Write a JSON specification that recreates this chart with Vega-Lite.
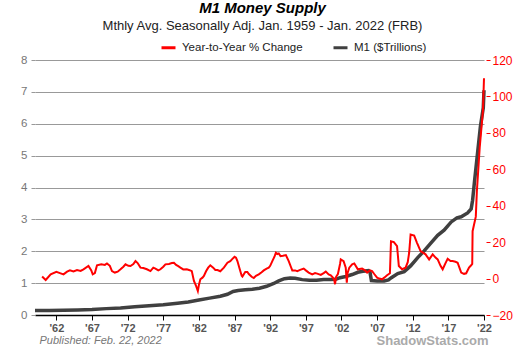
{
 "$schema": "https://vega.github.io/schema/vega-lite/v6.json",
 "width": 449, "height": 255,
 "autosize": {"type": "none"},
 "padding": {"left": 35, "top": 60, "right": 41, "bottom": 35},
 "background": "white",
 "config": {"font": "Liberation Sans", "view": {"stroke": null}, "axis": {"labelOverlap": false}},
 "title": {"text": "M1 Money Supply", "subtitle": "Mthly Avg. Seasonally Adj. Jan. 1959 - Jan. 2022  (FRB)", "anchor": "middle", "frame": "group", "font": "Liberation Sans", "fontSize": 15, "fontWeight": "bold", "fontStyle": "italic", "color": "#000", "subtitleFont": "Liberation Sans", "subtitleFontSize": 13, "subtitleColor": "#222", "subtitlePadding": 4, "offset": 6, "dx": 3},
 "data": {"values": [
  {"s":"M1 ($Trillions)","yr":1959.0,"v":0.14},{"s":"M1 ($Trillions)","yr":1961.0,"v":0.145},{"s":"M1 ($Trillions)","yr":1963.0,"v":0.15},{"s":"M1 ($Trillions)","yr":1965.0,"v":0.16},{"s":"M1 ($Trillions)","yr":1967.0,"v":0.175},{"s":"M1 ($Trillions)","yr":1969.0,"v":0.2},{"s":"M1 ($Trillions)","yr":1971.0,"v":0.22},{"s":"M1 ($Trillions)","yr":1973.0,"v":0.26},{"s":"M1 ($Trillions)","yr":1975.0,"v":0.29},{"s":"M1 ($Trillions)","yr":1977.0,"v":0.32},{"s":"M1 ($Trillions)","yr":1979.0,"v":0.37},{"s":"M1 ($Trillions)","yr":1980.5,"v":0.41},{"s":"M1 ($Trillions)","yr":1982.0,"v":0.47},{"s":"M1 ($Trillions)","yr":1983.5,"v":0.53},{"s":"M1 ($Trillions)","yr":1985.0,"v":0.59},{"s":"M1 ($Trillions)","yr":1986.0,"v":0.65},{"s":"M1 ($Trillions)","yr":1986.8,"v":0.74},{"s":"M1 ($Trillions)","yr":1987.5,"v":0.77},{"s":"M1 ($Trillions)","yr":1988.5,"v":0.79},{"s":"M1 ($Trillions)","yr":1989.5,"v":0.81},{"s":"M1 ($Trillions)","yr":1990.5,"v":0.84},{"s":"M1 ($Trillions)","yr":1991.5,"v":0.9},{"s":"M1 ($Trillions)","yr":1992.5,"v":0.99},{"s":"M1 ($Trillions)","yr":1993.2,"v":1.07},{"s":"M1 ($Trillions)","yr":1994.0,"v":1.14},{"s":"M1 ($Trillions)","yr":1994.8,"v":1.16},{"s":"M1 ($Trillions)","yr":1995.5,"v":1.15},{"s":"M1 ($Trillions)","yr":1996.5,"v":1.11},{"s":"M1 ($Trillions)","yr":1997.5,"v":1.09},{"s":"M1 ($Trillions)","yr":1998.5,"v":1.09},{"s":"M1 ($Trillions)","yr":1999.5,"v":1.11},{"s":"M1 ($Trillions)","yr":2000.5,"v":1.11},{"s":"M1 ($Trillions)","yr":2001.2,"v":1.12},{"s":"M1 ($Trillions)","yr":2001.8,"v":1.17},{"s":"M1 ($Trillions)","yr":2002.6,"v":1.21},{"s":"M1 ($Trillions)","yr":2003.5,"v":1.27},{"s":"M1 ($Trillions)","yr":2004.3,"v":1.34},{"s":"M1 ($Trillions)","yr":2005.0,"v":1.37},{"s":"M1 ($Trillions)","yr":2005.8,"v":1.39},{"s":"M1 ($Trillions)","yr":2006.0,"v":1.35},{"s":"M1 ($Trillions)","yr":2006.2,"v":1.08},{"s":"M1 ($Trillions)","yr":2007.0,"v":1.07},{"s":"M1 ($Trillions)","yr":2008.0,"v":1.07},{"s":"M1 ($Trillions)","yr":2008.6,"v":1.1},{"s":"M1 ($Trillions)","yr":2009.0,"v":1.17},{"s":"M1 ($Trillions)","yr":2009.9,"v":1.3},{"s":"M1 ($Trillions)","yr":2010.8,"v":1.36},{"s":"M1 ($Trillions)","yr":2011.7,"v":1.54},{"s":"M1 ($Trillions)","yr":2012.7,"v":1.8},{"s":"M1 ($Trillions)","yr":2013.6,"v":2.01},{"s":"M1 ($Trillions)","yr":2014.6,"v":2.27},{"s":"M1 ($Trillions)","yr":2015.5,"v":2.5},{"s":"M1 ($Trillions)","yr":2016.4,"v":2.66},{"s":"M1 ($Trillions)","yr":2017.4,"v":2.92},{"s":"M1 ($Trillions)","yr":2018.2,"v":3.05},{"s":"M1 ($Trillions)","yr":2018.8,"v":3.08},{"s":"M1 ($Trillions)","yr":2019.7,"v":3.2},{"s":"M1 ($Trillions)","yr":2020.2,"v":3.33},{"s":"M1 ($Trillions)","yr":2020.4,"v":3.6},{"s":"M1 ($Trillions)","yr":2020.65,"v":4.15},{"s":"M1 ($Trillions)","yr":2021.1,"v":5.09},{"s":"M1 ($Trillions)","yr":2021.5,"v":5.92},{"s":"M1 ($Trillions)","yr":2021.9,"v":6.5},{"s":"M1 ($Trillions)","yr":2022.0,"v":7.05},
  {"s":"Year-to-Year % Change","yr":1960.0,"v":1.1},{"s":"Year-to-Year % Change","yr":1960.5,"v":-0.8},{"s":"Year-to-Year % Change","yr":1961.2,"v":2.3},{"s":"Year-to-Year % Change","yr":1962.0,"v":3.7},{"s":"Year-to-Year % Change","yr":1962.5,"v":3.0},{"s":"Year-to-Year % Change","yr":1963.0,"v":2.3},{"s":"Year-to-Year % Change","yr":1963.5,"v":3.8},{"s":"Year-to-Year % Change","yr":1963.9,"v":4.5},{"s":"Year-to-Year % Change","yr":1964.4,"v":3.9},{"s":"Year-to-Year % Change","yr":1964.9,"v":4.7},{"s":"Year-to-Year % Change","yr":1965.4,"v":4.2},{"s":"Year-to-Year % Change","yr":1965.8,"v":5.1},{"s":"Year-to-Year % Change","yr":1966.5,"v":6.9},{"s":"Year-to-Year % Change","yr":1966.9,"v":4.5},{"s":"Year-to-Year % Change","yr":1967.1,"v":2.3},{"s":"Year-to-Year % Change","yr":1967.4,"v":3.0},{"s":"Year-to-Year % Change","yr":1967.7,"v":7.3},{"s":"Year-to-Year % Change","yr":1968.3,"v":7.8},{"s":"Year-to-Year % Change","yr":1968.8,"v":7.5},{"s":"Year-to-Year % Change","yr":1969.1,"v":8.3},{"s":"Year-to-Year % Change","yr":1969.5,"v":7.0},{"s":"Year-to-Year % Change","yr":1969.8,"v":4.1},{"s":"Year-to-Year % Change","yr":1970.2,"v":3.3},{"s":"Year-to-Year % Change","yr":1970.6,"v":3.8},{"s":"Year-to-Year % Change","yr":1971.0,"v":5.1},{"s":"Year-to-Year % Change","yr":1971.4,"v":6.5},{"s":"Year-to-Year % Change","yr":1971.7,"v":7.8},{"s":"Year-to-Year % Change","yr":1972.1,"v":7.0},{"s":"Year-to-Year % Change","yr":1972.4,"v":6.9},{"s":"Year-to-Year % Change","yr":1972.8,"v":8.0},{"s":"Year-to-Year % Change","yr":1973.1,"v":9.6},{"s":"Year-to-Year % Change","yr":1973.4,"v":8.5},{"s":"Year-to-Year % Change","yr":1973.8,"v":6.0},{"s":"Year-to-Year % Change","yr":1974.2,"v":5.8},{"s":"Year-to-Year % Change","yr":1974.7,"v":5.1},{"s":"Year-to-Year % Change","yr":1975.2,"v":4.1},{"s":"Year-to-Year % Change","yr":1975.6,"v":6.0},{"s":"Year-to-Year % Change","yr":1975.9,"v":5.5},{"s":"Year-to-Year % Change","yr":1976.3,"v":4.5},{"s":"Year-to-Year % Change","yr":1976.6,"v":5.1},{"s":"Year-to-Year % Change","yr":1977.0,"v":6.5},{"s":"Year-to-Year % Change","yr":1977.3,"v":7.8},{"s":"Year-to-Year % Change","yr":1977.8,"v":8.0},{"s":"Year-to-Year % Change","yr":1978.2,"v":8.5},{"s":"Year-to-Year % Change","yr":1978.5,"v":8.7},{"s":"Year-to-Year % Change","yr":1978.8,"v":7.5},{"s":"Year-to-Year % Change","yr":1979.1,"v":6.8},{"s":"Year-to-Year % Change","yr":1979.4,"v":6.0},{"s":"Year-to-Year % Change","yr":1979.8,"v":5.0},{"s":"Year-to-Year % Change","yr":1980.3,"v":5.1},{"s":"Year-to-Year % Change","yr":1980.7,"v":4.6},{"s":"Year-to-Year % Change","yr":1981.0,"v":4.1},{"s":"Year-to-Year % Change","yr":1981.3,"v":-1.3},{"s":"Year-to-Year % Change","yr":1981.6,"v":-4.0},{"s":"Year-to-Year % Change","yr":1981.85,"v":-6.8},{"s":"Year-to-Year % Change","yr":1982.0,"v":-3.5},{"s":"Year-to-Year % Change","yr":1982.2,"v":-0.4},{"s":"Year-to-Year % Change","yr":1982.5,"v":0.5},{"s":"Year-to-Year % Change","yr":1982.7,"v":1.4},{"s":"Year-to-Year % Change","yr":1983.0,"v":4.0},{"s":"Year-to-Year % Change","yr":1983.3,"v":6.0},{"s":"Year-to-Year % Change","yr":1983.6,"v":7.3},{"s":"Year-to-Year % Change","yr":1984.0,"v":6.0},{"s":"Year-to-Year % Change","yr":1984.3,"v":4.7},{"s":"Year-to-Year % Change","yr":1984.6,"v":4.7},{"s":"Year-to-Year % Change","yr":1985.0,"v":4.0},{"s":"Year-to-Year % Change","yr":1985.5,"v":6.0},{"s":"Year-to-Year % Change","yr":1986.0,"v":8.7},{"s":"Year-to-Year % Change","yr":1986.4,"v":9.6},{"s":"Year-to-Year % Change","yr":1986.7,"v":10.8},{"s":"Year-to-Year % Change","yr":1987.0,"v":12.0},{"s":"Year-to-Year % Change","yr":1987.2,"v":11.5},{"s":"Year-to-Year % Change","yr":1987.4,"v":9.6},{"s":"Year-to-Year % Change","yr":1987.7,"v":5.5},{"s":"Year-to-Year % Change","yr":1988.0,"v":1.5},{"s":"Year-to-Year % Change","yr":1988.1,"v":1.1},{"s":"Year-to-Year % Change","yr":1988.5,"v":3.6},{"s":"Year-to-Year % Change","yr":1988.8,"v":3.6},{"s":"Year-to-Year % Change","yr":1989.0,"v":2.5},{"s":"Year-to-Year % Change","yr":1989.4,"v":1.0},{"s":"Year-to-Year % Change","yr":1989.7,"v":0.3},{"s":"Year-to-Year % Change","yr":1990.0,"v":1.5},{"s":"Year-to-Year % Change","yr":1990.4,"v":2.3},{"s":"Year-to-Year % Change","yr":1990.8,"v":3.5},{"s":"Year-to-Year % Change","yr":1991.1,"v":4.5},{"s":"Year-to-Year % Change","yr":1991.5,"v":5.5},{"s":"Year-to-Year % Change","yr":1991.8,"v":6.0},{"s":"Year-to-Year % Change","yr":1992.0,"v":7.0},{"s":"Year-to-Year % Change","yr":1992.3,"v":9.6},{"s":"Year-to-Year % Change","yr":1992.6,"v":12.0},{"s":"Year-to-Year % Change","yr":1992.8,"v":14.2},{"s":"Year-to-Year % Change","yr":1993.0,"v":13.5},{"s":"Year-to-Year % Change","yr":1993.2,"v":13.8},{"s":"Year-to-Year % Change","yr":1993.45,"v":12.3},{"s":"Year-to-Year % Change","yr":1993.8,"v":12.5},{"s":"Year-to-Year % Change","yr":1994.2,"v":12.9},{"s":"Year-to-Year % Change","yr":1994.6,"v":9.6},{"s":"Year-to-Year % Change","yr":1994.9,"v":6.5},{"s":"Year-to-Year % Change","yr":1995.1,"v":4.5},{"s":"Year-to-Year % Change","yr":1995.5,"v":4.5},{"s":"Year-to-Year % Change","yr":1995.8,"v":4.1},{"s":"Year-to-Year % Change","yr":1996.2,"v":4.8},{"s":"Year-to-Year % Change","yr":1996.7,"v":5.5},{"s":"Year-to-Year % Change","yr":1997.0,"v":4.5},{"s":"Year-to-Year % Change","yr":1997.4,"v":3.3},{"s":"Year-to-Year % Change","yr":1997.9,"v":2.3},{"s":"Year-to-Year % Change","yr":1998.3,"v":3.0},{"s":"Year-to-Year % Change","yr":1998.6,"v":2.7},{"s":"Year-to-Year % Change","yr":1999.1,"v":2.0},{"s":"Year-to-Year % Change","yr":1999.5,"v":3.0},{"s":"Year-to-Year % Change","yr":1999.8,"v":3.8},{"s":"Year-to-Year % Change","yr":2000.2,"v":2.3},{"s":"Year-to-Year % Change","yr":2000.5,"v":1.8},{"s":"Year-to-Year % Change","yr":2000.8,"v":0.5},{"s":"Year-to-Year % Change","yr":2001.0,"v":-1.0},{"s":"Year-to-Year % Change","yr":2001.1,"v":-3.1},{"s":"Year-to-Year % Change","yr":2001.25,"v":1.0},{"s":"Year-to-Year % Change","yr":2001.5,"v":2.5},{"s":"Year-to-Year % Change","yr":2001.8,"v":8.0},{"s":"Year-to-Year % Change","yr":2001.9,"v":10.5},{"s":"Year-to-Year % Change","yr":2002.3,"v":9.6},{"s":"Year-to-Year % Change","yr":2002.6,"v":6.0},{"s":"Year-to-Year % Change","yr":2002.75,"v":-2.2},{"s":"Year-to-Year % Change","yr":2002.85,"v":3.0},{"s":"Year-to-Year % Change","yr":2003.1,"v":6.0},{"s":"Year-to-Year % Change","yr":2003.5,"v":7.8},{"s":"Year-to-Year % Change","yr":2003.8,"v":8.3},{"s":"Year-to-Year % Change","yr":2004.3,"v":5.1},{"s":"Year-to-Year % Change","yr":2004.9,"v":5.5},{"s":"Year-to-Year % Change","yr":2005.3,"v":4.5},{"s":"Year-to-Year % Change","yr":2005.6,"v":3.3},{"s":"Year-to-Year % Change","yr":2006.0,"v":4.5},{"s":"Year-to-Year % Change","yr":2006.3,"v":4.1},{"s":"Year-to-Year % Change","yr":2006.6,"v":2.5},{"s":"Year-to-Year % Change","yr":2007.0,"v":0.5},{"s":"Year-to-Year % Change","yr":2007.3,"v":0.0},{"s":"Year-to-Year % Change","yr":2007.7,"v":-0.4},{"s":"Year-to-Year % Change","yr":2008.0,"v":0.5},{"s":"Year-to-Year % Change","yr":2008.4,"v":1.8},{"s":"Year-to-Year % Change","yr":2008.8,"v":2.9},{"s":"Year-to-Year % Change","yr":2008.95,"v":20.5},{"s":"Year-to-Year % Change","yr":2009.35,"v":20.0},{"s":"Year-to-Year % Change","yr":2009.8,"v":17.8},{"s":"Year-to-Year % Change","yr":2010.05,"v":6.9},{"s":"Year-to-Year % Change","yr":2010.5,"v":5.1},{"s":"Year-to-Year % Change","yr":2011.0,"v":6.0},{"s":"Year-to-Year % Change","yr":2011.3,"v":9.0},{"s":"Year-to-Year % Change","yr":2011.5,"v":14.2},{"s":"Year-to-Year % Change","yr":2011.7,"v":24.2},{"s":"Year-to-Year % Change","yr":2012.2,"v":23.6},{"s":"Year-to-Year % Change","yr":2012.6,"v":19.6},{"s":"Year-to-Year % Change","yr":2013.1,"v":15.1},{"s":"Year-to-Year % Change","yr":2013.8,"v":13.3},{"s":"Year-to-Year % Change","yr":2014.3,"v":10.5},{"s":"Year-to-Year % Change","yr":2014.8,"v":13.3},{"s":"Year-to-Year % Change","yr":2015.2,"v":11.5},{"s":"Year-to-Year % Change","yr":2015.5,"v":10.5},{"s":"Year-to-Year % Change","yr":2015.9,"v":7.0},{"s":"Year-to-Year % Change","yr":2016.2,"v":5.1},{"s":"Year-to-Year % Change","yr":2016.6,"v":8.5},{"s":"Year-to-Year % Change","yr":2016.9,"v":10.9},{"s":"Year-to-Year % Change","yr":2017.3,"v":9.6},{"s":"Year-to-Year % Change","yr":2017.6,"v":9.6},{"s":"Year-to-Year % Change","yr":2018.0,"v":9.2},{"s":"Year-to-Year % Change","yr":2018.3,"v":8.7},{"s":"Year-to-Year % Change","yr":2018.6,"v":5.5},{"s":"Year-to-Year % Change","yr":2018.8,"v":3.3},{"s":"Year-to-Year % Change","yr":2019.2,"v":2.6},{"s":"Year-to-Year % Change","yr":2019.5,"v":2.9},{"s":"Year-to-Year % Change","yr":2019.9,"v":6.0},{"s":"Year-to-Year % Change","yr":2020.2,"v":7.3},{"s":"Year-to-Year % Change","yr":2020.35,"v":8.0},{"s":"Year-to-Year % Change","yr":2020.4,"v":26.0},{"s":"Year-to-Year % Change","yr":2020.85,"v":34.0},{"s":"Year-to-Year % Change","yr":2021.0,"v":48.0},{"s":"Year-to-Year % Change","yr":2021.4,"v":72.0},{"s":"Year-to-Year % Change","yr":2021.85,"v":92.0},{"s":"Year-to-Year % Change","yr":2022.0,"v":110.0}
 ]},
 "encoding": {
  "x": {"field": "yr", "type": "quantitative", "scale": {"domain": [1959, 2022], "nice": false, "zero": false},
    "axis": {"values": [1962, 1967, 1972, 1977, 1982, 1987, 1992, 1997, 2002, 2007, 2012, 2017, 2022], "format": "d", "labelExpr": "\"'\" + slice(datum.label, 2)", "labelOverlap": false, "labelSeparation": 0, "grid": false, "domainColor": "#000", "domainWidth": 1.5, "tickColor": "#000", "tickSize": 5, "labelFontWeight": "bold", "labelFontSize": 11, "labelColor": "#555", "labelPadding": 2, "labelFlush": false,
      "title": "Published: Feb. 22, 2022", "titleFontStyle": "italic", "titleFontWeight": "normal", "titleFontSize": 11, "titleColor": "#777", "titleAnchor": "start", "titleAlign": "left", "titleBaseline": "alphabetic", "titleX": 4, "titleY": 28.5}},
  "color": {"field": "s", "type": "nominal", "scale": {"domain": ["Year-to-Year % Change", "M1 ($Trillions)"], "range": ["#ff0000", "#404040"]},
    "legend": {"orient": "none", "legendX": 125, "legendY": -21, "direction": "horizontal", "title": null, "symbolType": "stroke", "symbolSize": 196, "symbolStrokeWidth": 3, "labelFontSize": 11.5, "labelColor": "#222", "labelOffset": 5, "columnPadding": 24, "padding": 0}}
 },
 "layer": [
  {
   "transform": [{"filter": "datum.s === 'M1 ($Trillions)'"}],
   "mark": {"type": "line", "strokeWidth": 3.5},
   "encoding": {
    "y": {"field": "v", "type": "quantitative", "scale": {"domain": [0, 8], "nice": false, "zero": false},
      "axis": {"values": [0, 1, 2, 3, 4, 5, 6, 7, 8], "labelOverlap": false, "domain": false, "grid": true, "gridColor": "#999", "gridWidth": 1, "tickColor": "#999", "tickSize": 4, "labelColor": "#777", "labelFontSize": 11.5, "labelPadding": 4, "title": null}}
   }
  },
  {
   "transform": [{"filter": "datum.s === 'Year-to-Year % Change'"}],
   "mark": {"type": "line", "strokeWidth": 2},
   "encoding": {
    "y": {"field": "v", "type": "quantitative", "scale": {"domain": [-20, 120], "nice": false, "zero": false},
      "axis": {"orient": "right", "values": [-20, 0, 20, 40, 60, 80, 100, 120], "labelOverlap": false, "domain": false, "grid": false, "offset": 2, "tickColor": "#ff0000", "tickSize": 4, "labelColor": "#ff0000", "labelFontSize": 12, "labelPadding": 2,
        "title": "ShadowStats.com", "titleAngle": 0, "titleAlign": "right", "titleBaseline": "alphabetic", "titleX": 2, "titleY": 284, "titleFontSize": 13, "titleFontWeight": "bold", "titleColor": "#aaa"}}
   }
  }
 ],
 "resolve": {"scale": {"y": "independent"}}
}
